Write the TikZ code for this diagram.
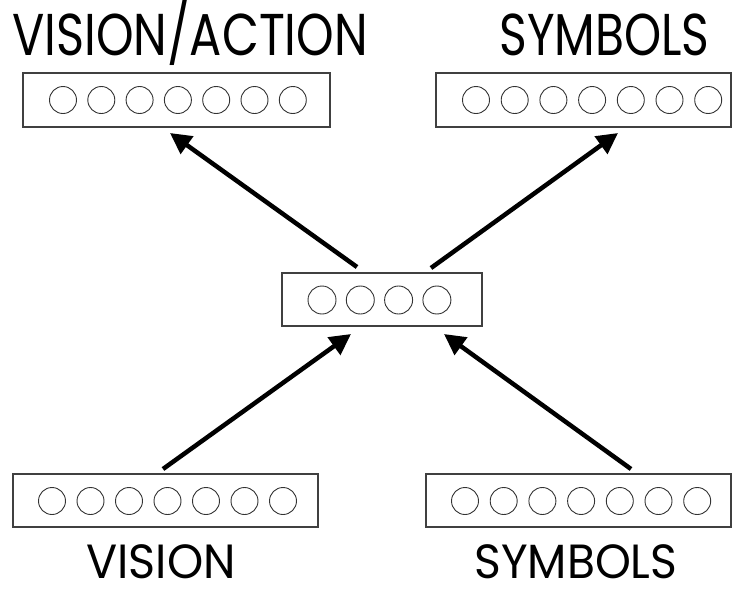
\documentclass[tikz,border=0pt]{standalone}
\usepackage{fontspec}
\setmainfont{Poppins}
\usetikzlibrary{arrows.meta}
\tikzset{
  layer/.style={draw=black!75, line width=1.3pt, minimum height=54pt, inner sep=0pt},
  unit/.style={draw=black!80, line width=0.9pt, circle, minimum size=27pt, inner sep=0pt},
  biglabel/.style={anchor=base, inner sep=0pt, font=\fontsize{59}{60}\selectfont},
  smalllabel/.style={anchor=base, inner sep=0pt, font=\fontsize{48}{50}\selectfont},
  link/.style={line width=4.5pt, -{Triangle[length=21pt, width=21pt]}, shorten >=0pt}
}
\begin{document}
\begin{tikzpicture}[x=1pt, y=-1pt]
\useasboundingbox (0,0) rectangle (732,590);
% boxes
\node[layer, minimum width=307pt] (tl) at (176.5,100) {};
\node[layer, minimum width=295pt] (tr) at (583.5,100) {};
\node[layer, minimum width=200pt, minimum height=53pt] (mid) at (382,299.5) {};
\node[layer, minimum width=305pt, minimum height=53pt] (bl) at (165.5,500.5) {};
\node[layer, minimum width=305pt, minimum height=53pt] (br) at (578.5,500.5) {};
% units
\foreach \i in {0,...,6} {
  \node[unit] (tl\i) at ({63+\i*38.3},100) {};
  \node[unit] (tr\i) at ({476+\i*38.7},100) {};
  \node[unit] (bl\i) at ({52+\i*38.5},501) {};
  \node[unit] (br\i) at ({465+\i*38.7},501) {};
}
\foreach \i in {0,...,3} {
  \node[unit, minimum size=28pt] (m\i) at ({322+\i*38.3},300) {};
}
% labels
\node[biglabel] (ltl) at (190,55) {\scalebox{0.81}[1]{VISION/ACTION}};
\node[biglabel] (ltr) at (604.5,55) {\scalebox{0.80}[1]{SYMBOLS}};
\node[smalllabel] (lbl) at (161,578) {\scalebox{0.96}[1]{VISION}};
\node[smalllabel] (lbr) at (576,578) {\scalebox{0.95}[1]{SYMBOLS}};
% arrow end points
\coordinate (a1s) at (357,267); \coordinate (a1e) at (170,133);
\coordinate (a2s) at (431,268); \coordinate (a2e) at (618,133);
\coordinate (a3s) at (163,469); \coordinate (a3e) at (351,334);
\coordinate (a4s) at (631,469); \coordinate (a4e) at (444,334);
\draw[link] (a1s) -- (a1e);
\draw[link] (a2s) -- (a2e);
\draw[link] (a3s) -- (a3e);
\draw[link] (a4s) -- (a4e);
\end{tikzpicture}
\end{document}
